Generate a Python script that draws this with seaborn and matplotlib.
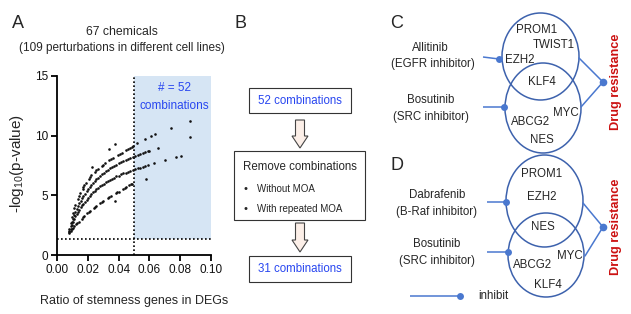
import numpy as np
import pandas as pd
import matplotlib
matplotlib.use("Agg")
import matplotlib.pyplot as plt
from matplotlib.patches import Rectangle, Ellipse, Polygon
import seaborn as sns

sns.set_style("ticks")
plt.rcParams['font.family'] = ['Liberation Sans', 'DejaVu Sans']
plt.rcParams['mathtext.default'] = 'regular'

# --- panel A data ---
curve1_x = [0.0080, 0.0088, 0.0096, 0.0104, 0.0112, 0.0120, 0.0135, 0.0143, 0.0151, 0.0170,
            0.0178, 0.0186, 0.0205, 0.0214, 0.0223, 0.0245, 0.0255, 0.0265, 0.0290, 0.0301,
            0.0312, 0.0340, 0.0352, 0.0364, 0.0395, 0.0408, 0.0421, 0.0450, 0.0462, 0.0474,
            0.0486, 0.0496]
curve1_y = [2.20, 2.70, 3.15, 3.55, 3.90, 4.20, 4.70, 4.95, 5.18, 5.70,
            5.88, 6.05, 6.40, 6.55, 6.68, 6.98, 7.10, 7.22, 7.48, 7.58,
            7.68, 7.92, 8.02, 8.12, 8.38, 8.48, 8.58, 8.80, 8.88, 8.96,
            9.05, 9.12]
curve2_x = [0.0080, 0.0088, 0.0096, 0.0104, 0.0112, 0.0120, 0.0128, 0.0136, 0.0145, 0.0154,
            0.0163, 0.0172, 0.0182, 0.0192, 0.0202, 0.0212, 0.0223, 0.0234, 0.0245, 0.0256,
            0.0268, 0.0280, 0.0292, 0.0305, 0.0318, 0.0331, 0.0344, 0.0358, 0.0372, 0.0386,
            0.0400, 0.0415, 0.0430, 0.0445, 0.0460, 0.0476, 0.0492, 0.0508, 0.0524, 0.0540,
            0.0556, 0.0572, 0.0588, 0.0600]
curve2_y = [2.00, 2.40, 2.75, 3.05, 3.35, 3.63, 3.88, 4.10, 4.33, 4.55,
            4.76, 4.95, 5.14, 5.33, 5.50, 5.67, 5.85, 6.02, 6.18, 6.33,
            6.48, 6.62, 6.75, 6.89, 7.02, 7.14, 7.25, 7.37, 7.48, 7.58,
            7.67, 7.77, 7.86, 7.94, 8.02, 8.10, 8.18, 8.27, 8.36, 8.45,
            8.53, 8.61, 8.68, 8.74]
curve3_x = [0.0080, 0.0088, 0.0096, 0.0104, 0.0112, 0.0120, 0.0128, 0.0136, 0.0145, 0.0154,
            0.0163, 0.0172, 0.0182, 0.0192, 0.0202, 0.0212, 0.0223, 0.0234, 0.0245, 0.0256,
            0.0268, 0.0280, 0.0292, 0.0305, 0.0318, 0.0331, 0.0344, 0.0358, 0.0372, 0.0386,
            0.0400, 0.0415, 0.0430, 0.0445, 0.0460, 0.0476, 0.0492, 0.0508, 0.0524, 0.0540,
            0.0556, 0.0572, 0.0588]
curve3_y = [1.95, 2.22, 2.50, 2.76, 3.00, 3.23, 3.44, 3.62, 3.81, 3.99,
            4.15, 4.31, 4.48, 4.64, 4.80, 4.94, 5.10, 5.24, 5.38, 5.50,
            5.63, 5.75, 5.86, 5.97, 6.08, 6.19, 6.29, 6.39, 6.49, 6.58,
            6.66, 6.75, 6.83, 6.91, 6.98, 7.05, 7.12, 7.19, 7.26, 7.33,
            7.40, 7.46, 7.52]
curve4_x = [0.0080, 0.0088, 0.0096, 0.0104, 0.0112, 0.0125, 0.0133, 0.0141, 0.0160, 0.0168,
            0.0176, 0.0196, 0.0205, 0.0214, 0.0238, 0.0247, 0.0256, 0.0282, 0.0291, 0.0300,
            0.0330, 0.0340, 0.0350, 0.0380, 0.0390, 0.0400, 0.0430, 0.0440, 0.0450, 0.0470,
            0.0480, 0.0490]
curve4_y = [1.85, 2.02, 2.16, 2.28, 2.40, 2.58, 2.70, 2.80, 3.05, 3.15,
            3.25, 3.48, 3.58, 3.67, 3.92, 4.01, 4.10, 4.34, 4.42, 4.50,
            4.75, 4.84, 4.92, 5.16, 5.24, 5.32, 5.55, 5.63, 5.70, 5.84,
            5.91, 5.97]
other_x = [0.0167, 0.0225, 0.0335, 0.0375, 0.0375, 0.0517, 0.0571, 0.0610, 0.0638, 0.0742,
           0.0866, 0.0866, 0.0658, 0.0578, 0.0630, 0.0700, 0.0775, 0.0803]
other_y = [5.55, 7.35, 8.88, 9.30, 4.50, 9.36, 9.72, 9.97, 10.12, 10.67,
           11.20, 9.86, 9.00, 6.37, 7.68, 7.96, 8.18, 8.28]

ratio_cut = 0.05
p_cut = 1.3
x_ticks = [0.00, 0.02, 0.04, 0.06, 0.08, 0.10]
y_ticks = [0, 5, 10, 15]

df = pd.DataFrame({
    'ratio': curve1_x + curve2_x + curve3_x + curve4_x + other_x,
    'logp': curve1_y + curve2_y + curve3_y + curve4_y + other_y,
})

fig = plt.figure(figsize=(6.31, 3.14), dpi=100)
W, H = 631, 314

# overlay in pixel coordinates for panels B, C, D and labels
ov = fig.add_axes([0, 0, 1, 1])
ov.set_xlim(0, W)
ov.set_ylim(H, 0)
ov.axis('off')

# --- panel A ---
ax = fig.add_axes([57 / W, (H - 255) / H, 154 / W, 179 / H])
ax.add_patch(Rectangle((ratio_cut, p_cut), 0.10 - ratio_cut, 15 - p_cut,
                       facecolor='#d6e5f4', edgecolor='none', zorder=0))
ax.axvline(ratio_cut, color='k', ls=(0, (1, 1.4)), lw=1.2, zorder=1)
ax.axhline(p_cut, color='k', ls=(0, (1, 1.4)), lw=1.2, zorder=1)
sns.scatterplot(data=df, x='ratio', y='logp', s=3.5, color='#111111',
                linewidth=0, ax=ax, zorder=3)
ax.set_xlim(0, 0.10)
ax.set_ylim(0, 15)
ax.set_xticks(x_ticks)
ax.set_xticklabels([f'{v:.2f}' for v in x_ticks])
ax.set_yticks(y_ticks)
ax.tick_params(axis='both', direction='out', length=4.5, width=1.3,
               labelsize=8.5, pad=2, color='k', labelcolor='#111')
for s in ['top', 'right']:
    ax.spines[s].set_visible(False)
for s in ['left', 'bottom']:
    ax.spines[s].set_linewidth(1.3)
    ax.spines[s].set_color('k')
ax.set_xlabel('Ratio of stemness genes in DEGs', fontsize=9)
ax.set_ylabel('-log$_{10}$(p-value)', fontsize=11)
ax.xaxis.set_label_coords(0.503, -0.225)
ax.yaxis.set_label_coords(-0.20, 0.51)
ax.text(0.076, 14.0, '# = 52', color='#2846f0', fontsize=8.5, ha='center', va='center')
ax.text(0.076, 12.5, 'combinations', color='#2846f0', fontsize=8.5, ha='center', va='center')

ov.text(18, 23, 'A', fontsize=13, ha='center', va='center')
ov.text(122, 32, '67 chemicals', fontsize=8.8, ha='center', va='center')
ov.text(122, 48, '(109 perturbations in different cell lines)', fontsize=8.5,
        ha='center', va='center')

# --- panel B ---
ov.text(240, 23, 'B', fontsize=13, ha='center', va='center')
blue = '#2846f0'
ov.add_patch(Rectangle((249, 88), 102, 25, fill=False, edgecolor='#333', lw=0.8))
ov.text(300, 100.5, '52 combinations', color=blue, fontsize=8.3, ha='center', va='center')
ov.add_patch(Rectangle((234, 151), 131, 69, fill=False, edgecolor='#333', lw=0.8))
ov.text(243, 167, 'Remove combinations', fontsize=8.3, ha='left', va='center')
ov.text(243, 189, '•', fontsize=8, ha='left', va='center')
ov.text(257, 189, 'Without MOA', fontsize=7, ha='left', va='center')
ov.text(243, 209, '•', fontsize=8, ha='left', va='center')
ov.text(257, 209, 'With repeated MOA', fontsize=7, ha='left', va='center')
ov.add_patch(Rectangle((249, 256), 102, 26, fill=False, edgecolor='#333', lw=0.8))
ov.text(300, 269, '31 combinations', color=blue, fontsize=8.3, ha='center', va='center')


def block_arrow(cx, top, bottom):
    sw, hw, hl = 4.5, 8, 12
    pts = [(cx - sw, top), (cx + sw, top), (cx + sw, bottom - hl), (cx + hw, bottom - hl),
           (cx, bottom), (cx - hw, bottom - hl), (cx - sw, bottom - hl)]
    ov.add_patch(Polygon(pts, closed=True, facecolor='#fcefe8', edgecolor='#444', lw=0.8))


block_arrow(300, 120, 148)
block_arrow(300, 223, 252)

# --- panels C and D ---
ring = '#3d62ad'
inh = '#4a78cf'
red = '#cc1111'


def inhibit(x0, y0, x1, y1):
    ov.plot([x0, x1], [y0, y1], color=inh, lw=1.1, solid_capstyle='butt')
    ov.plot([x1], [y1], 'o', color=inh, markersize=5, markeredgewidth=0)


def converge(p1, p2, tip):
    ov.plot([p1[0], tip[0]], [p1[1], tip[1]], color=inh, lw=1.1)
    ov.plot([p2[0], tip[0]], [p2[1], tip[1]], color=inh, lw=1.1)
    ov.plot([tip[0]], [tip[1]], 'o', color=inh, markersize=5.5, markeredgewidth=0)


fs = 8.3
# C
ov.text(397, 23, 'C', fontsize=13, ha='center', va='center')
ov.add_patch(Ellipse((540.5, 56.5), 77, 87, fill=False, edgecolor=ring, lw=1.1))
ov.add_patch(Ellipse((543, 108), 76, 90, fill=False, edgecolor=ring, lw=1.1))
for t, x, y in [('PROM1', 537, 30), ('TWIST1', 554, 45), ('EZH2', 520, 60),
                ('KLF4', 542, 82), ('MYC', 566, 113), ('ABCG2', 531, 122), ('NES', 542, 140)]:
    ov.text(x, y, t, fontsize=fs, ha='center', va='center')
ov.text(430, 48, 'Allitinib', fontsize=fs, ha='center', va='center')
ov.text(433, 64, '(EGFR inhibitor)', fontsize=fs, ha='center', va='center')
ov.text(431, 100, 'Bosutinib', fontsize=fs, ha='center', va='center')
ov.text(431, 117, '(SRC inhibitor)', fontsize=fs, ha='center', va='center')
inhibit(483, 57, 499, 59)
inhibit(483, 107, 504, 107)
converge((579, 58), (581, 107), (603, 82))
ov.text(616, 82, 'Drug resistance', fontsize=9.2, fontweight='bold', color=red,
        rotation=90, ha='center', va='center')

# D
ov.text(397, 166, 'D', fontsize=13, ha='center', va='center')
ov.add_patch(Ellipse((544.5, 201), 77, 92, fill=False, edgecolor=ring, lw=1.1))
ov.add_patch(Ellipse((546, 255), 76, 84, fill=False, edgecolor=ring, lw=1.1))
for t, x, y in [('PROM1', 542, 174), ('EZH2', 542, 197), ('NES', 543, 227),
                ('MYC', 570, 256), ('ABCG2', 533, 265), ('KLF4', 548, 285)]:
    ov.text(x, y, t, fontsize=fs, ha='center', va='center')
ov.text(437, 195, 'Dabrafenib', fontsize=fs, ha='center', va='center')
ov.text(437, 212, '(B-Raf inhibitor)', fontsize=fs, ha='center', va='center')
ov.text(437, 244, 'Bosutinib', fontsize=fs, ha='center', va='center')
ov.text(437, 261, '(SRC inhibitor)', fontsize=fs, ha='center', va='center')
inhibit(487, 202, 506, 202)
inhibit(487, 252, 508, 252)
converge((583, 203), (585, 256), (603, 227))
ov.text(616, 227, 'Drug resistance', fontsize=9.2, fontweight='bold', color=red,
        rotation=90, ha='center', va='center')

# legend
inhibit(410, 296, 460, 296)
ov.text(478, 296, 'inhibit', fontsize=fs, ha='left', va='center')

fig.savefig('out.png', dpi=100)
